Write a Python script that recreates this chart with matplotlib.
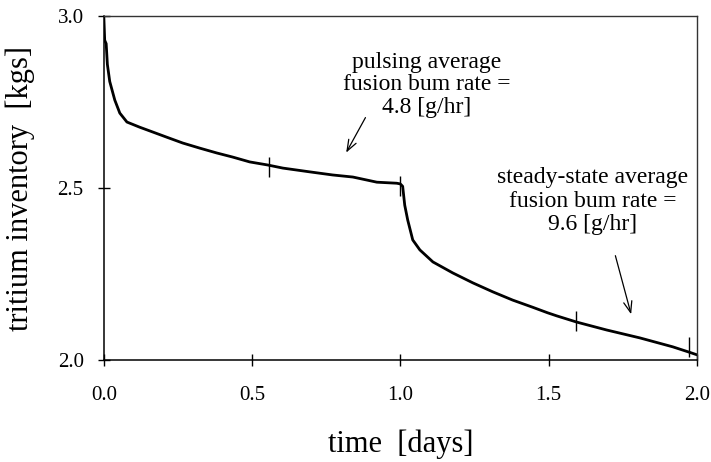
import matplotlib
matplotlib.use("Agg")
import matplotlib.pyplot as plt

# time [days] and tritium inventory [kg]
t_days = [0.0, 0.003, 0.008, 0.012, 0.020, 0.037, 0.054, 0.078, 0.121, 0.165,
          0.212, 0.266, 0.324, 0.381, 0.435, 0.492, 0.553, 0.604, 0.695, 0.772,
          0.84, 0.921, 0.988, 1.0, 1.008, 1.015, 1.025, 1.042, 1.066, 1.11,
          1.177, 1.245, 1.312, 1.379, 1.447, 1.497, 1.528, 1.595, 1.696, 1.808,
          1.919, 1.976, 2.0]
inventory = [3.0, 2.93, 2.92, 2.86, 2.81, 2.756, 2.718, 2.692, 2.677, 2.663,
             2.648, 2.631, 2.616, 2.602, 2.590, 2.576, 2.567, 2.558, 2.547, 2.538,
             2.532, 2.517, 2.514, 2.512, 2.505, 2.45, 2.407, 2.349, 2.320, 2.285,
             2.253, 2.224, 2.198, 2.174, 2.153, 2.137, 2.128, 2.110, 2.087, 2.064,
             2.038, 2.022, 2.015]

# small vertical marks on the curve
mark_t = [0.557, 1.0, 1.592, 1.973]
mark_v = [2.561, 2.506, 2.113, 2.038]

x_ticks = [0.0, 0.5, 1.0, 1.5, 2.0]
y_ticks = [2.0, 2.5, 3.0]

serif = "Liberation Serif"
plt.rcParams["font.family"] = [serif, "DejaVu Serif"]

fig = plt.figure(figsize=(7.11, 4.62), dpi=100)
ax = fig.add_axes([0.146, 0.221, 0.834, 0.744])

ax.plot(t_days, inventory, color="black", lw=2.0)
ax.plot(mark_t, mark_v, ls="none", marker="|", ms=15, mew=1.0, color="black")

ax.set_xlim(0, 2.0)
ax.set_ylim(2.0, 3.0)
ax.set_xticks(x_ticks)
ax.set_xticklabels([f"{v:.1f}" for v in x_ticks])
ax.set_yticks(y_ticks)
ax.set_yticklabels([f"{v:.1f}" for v in y_ticks])
ax.tick_params(axis="both", direction="inout", length=9, width=1,
               labelsize=15, colors="black")
ax.tick_params(axis="x", pad=14)
ax.tick_params(axis="y", pad=10)

for side in ["left", "bottom"]:
    ax.spines[side].set_linewidth(1.1)
for side in ["top", "right"]:
    ax.spines[side].set_linewidth(1.0)
    ax.spines[side].set_color("#333333")

ax.set_xlabel("time  [days]", fontsize=22, labelpad=18)
ax.set_ylabel("tritium inventory  [kgs]", fontsize=22, labelpad=16)

ax.text(1.089, 2.80, "pulsing average\nfusion bum rate =\n4.8 [g/hr]",
        ha="center", va="center", fontsize=17, linespacing=1.1)
ax.annotate("", xy=(0.813, 2.596), xytext=(0.887, 2.712),
            arrowprops=dict(arrowstyle="->,head_length=0.8,head_width=0.3",
                            color="black", lw=0.9))

ax.text(1.649, 2.462, "steady-state average\nfusion bum rate =\n9.6 [g/hr]",
        ha="center", va="center", fontsize=17, linespacing=1.15)
ax.annotate("", xy=(1.781, 2.125), xytext=(1.723, 2.311),
            arrowprops=dict(arrowstyle="->,head_length=0.8,head_width=0.3",
                            color="black", lw=0.9))

fig.savefig("out.png", dpi=100)
